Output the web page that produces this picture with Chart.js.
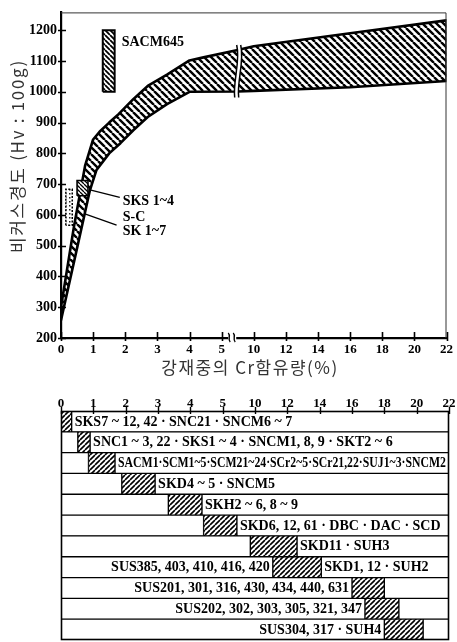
<!DOCTYPE html>
<html>
<head>
<meta charset="utf-8">
<script src="https://cdn.jsdelivr.net/npm/chart.js@4.4.1/dist/chart.umd.min.js"></script>
<style>
  html, body { margin: 0; padding: 0; background: #fff; }
  #wrap { position: relative; width: 457px; height: 642px; overflow: hidden; }
  canvas { position: absolute; left: 0; }
  #hv { top: 0; }
  #grades { top: 385px; }
</style>
</head>
<body>
<div id="wrap">
  <canvas id="hv" width="457" height="385"></canvas>
  <canvas id="grades" width="457" height="257"></canvas>
</div>
<script>
// ---- Cr content axis (0–5 % one step per %, break, 10–22 % one step per 2 %) ----
const crTickValues = [0, 1, 2, 3, 4, 5, 10, 12, 14, 16, 18, 20, 22];
const crTickLabels = ['0', '1', '2', '3', '4', '5', '10', '12', '14', '16', '18', '20', '22'];
const hvTickValues = [200, 300, 400, 500, 600, 700, 800, 900, 1000, 1100, 1200];

// ---- hardness band: upper and lower limits (Cr %, Hv) ----
const bandUpperCr = [0, 0.4, 0.75, 1.0, 1.2, 1.5, 1.8, 2.25, 2.7, 3.3, 4.0, 4.4, 5.5, 10, 16, 22];
const bandUpperHv = [300, 560, 760, 845, 870, 900, 928, 976, 1019, 1056, 1102, 1111, 1136, 1148, 1190, 1232];
const bandLowerCr = [0, 0.5, 0.9, 1.1, 1.5, 1.85, 2.25, 2.7, 3.3, 4.0, 5.5, 10, 16, 22];
const bandLowerHv = [258, 492, 680, 745, 800, 833, 875, 918, 960, 1000, 1001, 1003, 1015, 1035];

// ---- individual grades ----
const sacmCr = [1.3, 1.67];   const sacmHv = [1000, 1200];
const sksCr = [0.5, 0.84];    const sksHv = [662, 712];
const skCr = [0.15, 0.35];    const skHv = [566, 683];

// ---- callouts ----
const calloutText = ['SACM645', 'SKS 1~4', 'S-C', 'SK 1~7'];
const calloutCr = [1.89, 1.92, 1.92, 1.92];
const calloutHv = [1159, 644, 593, 545];
const leaderFromCr = [0.84, 0.59]; const leaderFromHv = [683, 609];
const leaderToCr = [1.83, 1.73];   const leaderToHv = [657, 567];

// ---- steel grades by Cr range ----
const gradeNames = ['SKS7', 'SNC1', 'SACM1', 'SKD4', 'SKH2', 'SKD6', 'SKD11', 'SKD1', 'SUS201', 'SUS202', 'SUS304'];
const hatchStartCr = [0, 0.52, 0.85, 1.88, 3.32, 4.41, 8.7, 11.1, 16.0, 16.8, 18.0];
const hatchEndCr   = [0.33, 0.9, 1.67, 2.91, 4.36, 5.44, 12.6, 14.1, 18.0, 18.9, 20.4];
const gradeRightText = [
  'SKS7 ~ 12, 42 · SNC21 · SNCM6 ~ 7',
  'SNC1 ~ 3, 22 · SKS1 ~ 4 · SNCM1, 8, 9 · SKT2 ~ 6',
  'SACM1·SCM1~5·SCM21~24·SCr2~5·SCr21,22·SUJ1~3·SNCM2',
  'SKD4 ~ 5 · SNCM5',
  'SKH2 ~ 6, 8 ~ 9',
  'SKD6, 12, 61 · DBC · DAC · SCD',
  'SKD11 · SUH3',
  'SKD1, 12 · SUH2',
  '', '', ''
];
const gradeLeftText = [
  '', '', '', '', '', '', '',
  'SUS385, 403, 410, 416, 420',
  'SUS201, 301, 316, 430, 434, 440, 631',
  'SUS202, 302, 303, 305, 321, 347',
  'SUS304, 317 · SUH4'
];

const AXIS_MAX = 12;
function crToPos(cr) {
  if (cr <= 5.5) return cr;
  if (cr < 10) return 5.5 + (cr - 5.5) / 9;
  return 6 + (cr - 10) / 2;
}

const tickFont = '"Liberation Serif", "DejaVu Serif", serif';
const krFont = '"Noto Sans CJK KR", "Noto Sans", sans-serif';

function makeHatch(ctx, size, width, dir) {
  const c = document.createElement('canvas');
  c.width = c.height = size;
  const g = c.getContext('2d');
  g.fillStyle = '#fff';
  g.fillRect(0, 0, size, size);
  g.strokeStyle = '#000';
  g.lineWidth = width;
  g.beginPath();
  for (const k of [-size, 0, size]) {
    if (dir === '\\') { g.moveTo(k, 0); g.lineTo(k + size, size); }
    else { g.moveTo(k, size); g.lineTo(k + size, 0); }
  }
  g.stroke();
  return ctx.createPattern(c, 'repeat');
}
function makeDots(ctx) {
  const c = document.createElement('canvas');
  c.width = c.height = 4;
  const g = c.getContext('2d');
  g.fillStyle = '#fff';
  g.fillRect(0, 0, 4, 4);
  g.fillStyle = '#222';
  g.fillRect(1, 1, 1.5, 1.5);
  return ctx.createPattern(c, 'repeat');
}

function rectPoints(crs, hvs) {
  const x0 = crToPos(crs[0]), x1 = crToPos(crs[1]);
  return [
    { x: x0, y: hvs[0] }, { x: x0, y: hvs[1] }, { x: x1, y: hvs[1] },
    { x: x1, y: hvs[0] }, { x: x0, y: hvs[0] }
  ];
}

// ================= hardness chart =================
const hvCtx = document.getElementById('hv').getContext('2d');

const bandPoints = bandUpperCr.map((c, i) => ({ x: crToPos(c), y: bandUpperHv[i] }));
for (let i = bandLowerCr.length - 1; i >= 0; i--) {
  bandPoints.push({ x: crToPos(bandLowerCr[i]), y: bandLowerHv[i] });
}
bandPoints.push({ x: bandPoints[0].x, y: bandPoints[0].y });

const shapeBase = { showLine: true, pointRadius: 0, pointHoverRadius: 0, tension: 0, fill: 'shape', borderColor: '#000' };

const hvDecor = {
  id: 'hvDecor',
  afterDraw(chart) {
    const { ctx, chartArea: a, scales: { x, y } } = chart;
    ctx.save();
    // thin frame on top and right
    ctx.strokeStyle = '#333';
    ctx.lineWidth = 1;
    ctx.beginPath();
    ctx.moveTo(a.left, a.top + 0.5);
    ctx.lineTo(a.right - 0.5, a.top + 0.5);
    ctx.lineTo(a.right - 0.5, a.bottom);
    ctx.stroke();

    // tick marks
    ctx.strokeStyle = '#000';
    ctx.lineWidth = 1.6;
    ctx.beginPath();
    hvTickValues.forEach(v => {
      const py = Math.round(y.getPixelForValue(v)) + 0.5;
      ctx.moveTo(a.left - 3, py); ctx.lineTo(a.left + 5, py);
    });
    crTickValues.forEach(v => {
      const px = Math.round(x.getPixelForValue(crToPos(v))) + 0.5;
      ctx.moveTo(px, a.bottom - 6); ctx.lineTo(px, a.bottom + 3);
    });
    ctx.stroke();

    // axis break mark
    const ax = x.getPixelForValue(5.33);
    ctx.fillStyle = '#fff';
    ctx.fillRect(ax - 4, a.bottom - 3, 8, 6);
    ctx.lineWidth = 1.4;
    ctx.beginPath();
    ctx.moveTo(ax - 4, a.bottom - 5);
    ctx.bezierCurveTo(ax - 1, a.bottom - 2, ax - 5, a.bottom + 1, ax - 2, a.bottom + 4);
    ctx.moveTo(ax + 1, a.bottom - 5);
    ctx.bezierCurveTo(ax + 4, a.bottom - 2, ax, a.bottom + 1, ax + 3, a.bottom + 4);
    ctx.stroke();

    // band break
    const bx = x.getPixelForValue(5.5);
    const yT = y.getPixelForValue(1136) - 5;
    const yB = y.getPixelForValue(1001) + 6;
    const h = yB - yT;
    ctx.fillStyle = '#fff';
    ctx.beginPath();
    ctx.moveTo(bx - 1, yT);
    ctx.bezierCurveTo(bx + 3, yT + h * 0.3, bx - 5, yB - h * 0.3, bx - 3, yB);
    ctx.lineTo(bx + 1, yB);
    ctx.bezierCurveTo(bx - 1, yB - h * 0.3, bx + 7, yT + h * 0.3, bx + 3, yT);
    ctx.closePath();
    ctx.fill();
    ctx.lineWidth = 1.5;
    ctx.beginPath();
    ctx.moveTo(bx - 1, yT);
    ctx.bezierCurveTo(bx + 3, yT + h * 0.3, bx - 5, yB - h * 0.3, bx - 3, yB);
    ctx.moveTo(bx + 3, yT);
    ctx.bezierCurveTo(bx + 7, yT + h * 0.3, bx - 1, yB - h * 0.3, bx + 1, yB);
    ctx.stroke();

    // callout texts
    ctx.fillStyle = '#000';
    ctx.font = 'bold 14px ' + tickFont;
    ctx.textAlign = 'left';
    ctx.textBaseline = 'middle';
    calloutText.forEach((t, i) => {
      ctx.fillText(t, x.getPixelForValue(crToPos(calloutCr[i])), y.getPixelForValue(calloutHv[i]));
    });

    // axis titles
    ctx.fillStyle = '#333';
    ctx.font = '17px ' + krFont;
    ctx.textAlign = 'center';
    ctx.letterSpacing = '1.5px';
    ctx.fillText('강재중의 Cr함유량(%)', 250, 368);
    ctx.letterSpacing = '1.7px';
    ctx.translate(18, 156);
    ctx.rotate(-Math.PI / 2);
    ctx.fillText('비커스경도 (Hv : 100g)', 0, 0);
    ctx.restore();
  }
};

new Chart(hvCtx, {
  type: 'scatter',
  data: {
    datasets: [
      Object.assign({}, shapeBase, { label: 'SKS', data: rectPoints(sksCr, sksHv), backgroundColor: makeHatch(hvCtx, 4, 1.3, '\\'), borderWidth: 1.6 }),
      Object.assign({}, shapeBase, { label: 'SK', data: rectPoints(skCr, skHv), backgroundColor: makeDots(hvCtx), borderWidth: 1.5, borderDash: [2, 1.5] }),
      Object.assign({}, shapeBase, { label: 'SACM645', data: rectPoints(sacmCr, sacmHv), backgroundColor: makeHatch(hvCtx, 5, 1.8, '\\'), borderWidth: 2 }),
      Object.assign({}, shapeBase, { label: 'band', data: bandPoints, backgroundColor: makeHatch(hvCtx, 7, 2.4, '\\'), borderWidth: 2.6, borderJoinStyle: 'round' }),
      { label: 'lead1', showLine: true, pointRadius: 0, fill: false, borderColor: '#000', borderWidth: 1.3,
        data: [{ x: crToPos(leaderFromCr[0]), y: leaderFromHv[0] }, { x: crToPos(leaderToCr[0]), y: leaderToHv[0] }] },
      { label: 'lead2', showLine: true, pointRadius: 0, fill: false, borderColor: '#000', borderWidth: 1.3,
        data: [{ x: crToPos(leaderFromCr[1]), y: leaderFromHv[1] }, { x: crToPos(leaderToCr[1]), y: leaderToHv[1] }] }
    ]
  },
  options: {
    responsive: false,
    animation: false,
    devicePixelRatio: 1,
    layout: { padding: { left: 0, right: 8, top: 7, bottom: 0 } },
    plugins: { legend: { display: false }, tooltip: { enabled: false } },
    scales: {
      x: {
        type: 'linear', min: 0, max: AXIS_MAX,
        afterBuildTicks: s => { s.ticks = crTickValues.map(v => ({ value: crToPos(v) })); },
        afterFit: s => { s.height = 47; },
        grid: { display: false, drawTicks: false },
        border: { display: true, color: '#000', width: 2.2 },
        ticks: { autoSkip: false, maxRotation: 0, padding: 4, color: '#000',
                 font: { family: tickFont, size: 13, weight: 'bold' },
                 callback: (v, i) => crTickLabels[i] }
      },
      y: {
        type: 'linear', min: 200, max: 1258,
        afterBuildTicks: s => { s.ticks = hvTickValues.map(v => ({ value: v })); },
        afterFit: s => { s.width = 61; },
        grid: { display: false, drawTicks: false },
        border: { display: true, color: '#000', width: 2.2 },
        ticks: { autoSkip: false, padding: 4, color: '#000',
                 font: { family: tickFont, size: 14, weight: 'bold' },
                 callback: v => String(v) }
      }
    }
  },
  plugins: [hvDecor]
});

// ================= grade table =================
const gCtx = document.getElementById('grades').getContext('2d');

const gradeDecor = {
  id: 'gradeDecor',
  afterDraw(chart) {
    const { ctx, chartArea: a, scales: { x } } = chart;
    ctx.save();
    ctx.strokeStyle = '#000';
    ctx.lineWidth = 1.4;
    ctx.beginPath();
    crTickValues.forEach(v => {
      const px = Math.round(x.getPixelForValue(crToPos(v))) + 0.5;
      ctx.moveTo(px, a.top - 4); ctx.lineTo(px, a.top + 3);
    });
    ctx.stroke();
    ctx.lineWidth = 1.6;
    ctx.strokeRect(a.left + 0.5, a.top + 0.5, a.right - a.left - 1, a.bottom - a.top - 1);

    const meta = chart.getDatasetMeta(1);
    ctx.fillStyle = '#000';
    ctx.font = 'bold 14px ' + tickFont;
    ctx.textBaseline = 'middle';
    meta.data.forEach((bar, i) => {
      const p = bar.getProps(['x', 'base', 'y']);
      const start = Math.min(p.x, p.base), end = Math.max(p.x, p.base);
      if (gradeRightText[i]) {
        const tx = end + 3;
        const avail = a.right - tx - 3;
        const w = ctx.measureText(gradeRightText[i]).width;
        ctx.save();
        ctx.textAlign = 'left';
        ctx.translate(tx, p.y + 0.5);
        if (w > avail) ctx.scale(avail / w, 1);
        ctx.fillText(gradeRightText[i], 0, 0);
        ctx.restore();
      }
      if (gradeLeftText[i]) {
        ctx.textAlign = 'right';
        ctx.fillText(gradeLeftText[i], start - 3, p.y + 0.5);
      }
    });
    ctx.restore();
  }
};

const barBase = { borderColor: '#000', borderWidth: 1, borderSkipped: false, grouped: false,
                  barPercentage: 1, categoryPercentage: 1 };

new Chart(gCtx, {
  type: 'bar',
  data: {
    labels: gradeNames,
    datasets: [
      Object.assign({}, barBase, { label: 'below', backgroundColor: '#fff',
        data: hatchStartCr.map(c => (c > 0 ? [0, crToPos(c)] : null)) }),
      Object.assign({}, barBase, { label: 'Cr range', backgroundColor: makeHatch(gCtx, 5, 1.6, '/'),
        data: hatchStartCr.map((c, i) => [crToPos(c), crToPos(hatchEndCr[i])]) }),
      Object.assign({}, barBase, { label: 'above', backgroundColor: '#fff',
        data: hatchEndCr.map(c => [crToPos(c), AXIS_MAX]) })
    ]
  },
  options: {
    indexAxis: 'y',
    responsive: false,
    animation: false,
    devicePixelRatio: 1,
    layout: { padding: { left: 61, right: 8, top: 0, bottom: 2 } },
    plugins: { legend: { display: false }, tooltip: { enabled: false } },
    scales: {
      x: {
        type: 'linear', position: 'top', min: 0, max: AXIS_MAX,
        afterBuildTicks: s => { s.ticks = crTickValues.map(v => ({ value: crToPos(v) })); },
        afterFit: s => { s.height = 26; },
        grid: { display: false, drawTicks: false },
        border: { display: false },
        ticks: { autoSkip: false, maxRotation: 0, padding: 0, color: '#000',
                 font: { family: tickFont, size: 13, weight: 'bold' },
                 callback: (v, i) => crTickLabels[i] }
      },
      y: { display: false }
    }
  },
  plugins: [gradeDecor]
});
</script>
</body>
</html>
